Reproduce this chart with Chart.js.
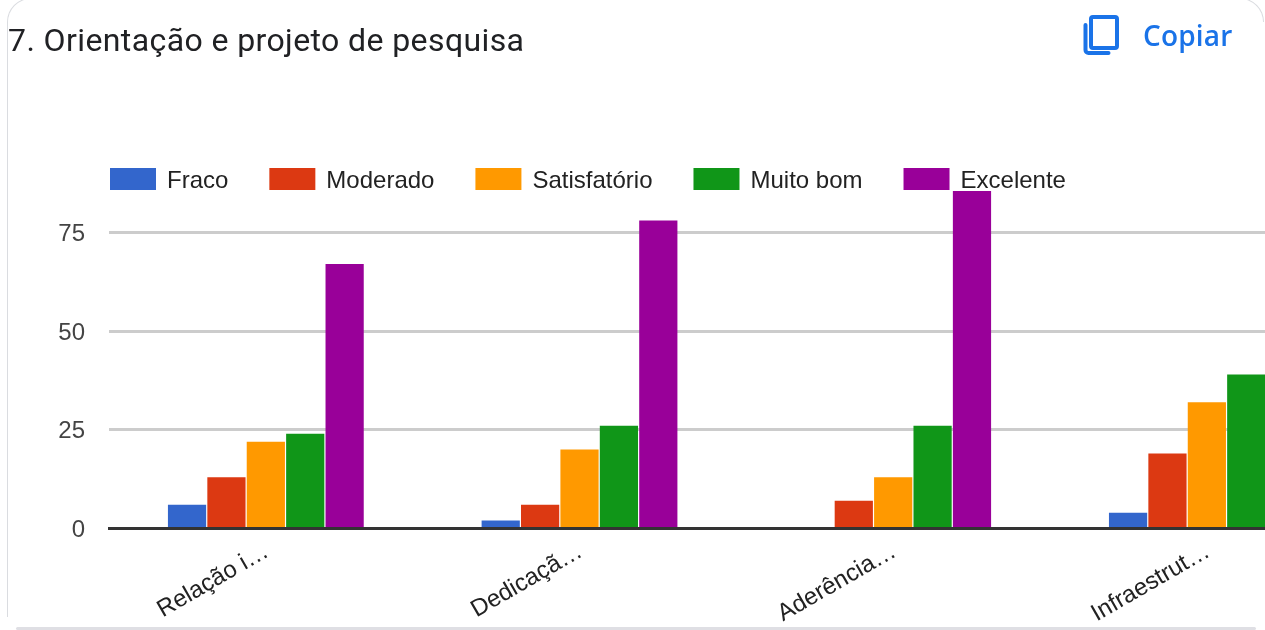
<!DOCTYPE html>
<html lang="pt">
<head>
<meta charset="utf-8">
<script src="https://cdn.jsdelivr.net/npm/chart.js@4"></script>
<style>
html,body{margin:0;padding:0;width:1265px;height:630px;overflow:hidden;background:#fff}
#card{position:absolute;left:7px;top:-2px;width:1280px;height:619px;box-sizing:border-box;border:1.5px solid #dadce0;border-bottom:none;border-radius:24px 24px 0 0}
#cardR{position:absolute;left:1240px;top:-2px;width:24px;height:24px;box-sizing:border-box;border-top:1.5px solid #dadce0;border-right:1.5px solid #dadce0;border-top-right-radius:24px;background:#fff}
#bottom{position:absolute;left:16px;top:627px;width:1240px;height:3px;background:#dfdfe4;border-radius:2px}
#wrap{position:absolute;left:0;top:0;width:1380px;height:630px}
#title{position:absolute;left:8px;top:21px;font:400 32px/38px Roboto,sans-serif;letter-spacing:.4px;color:#202124;white-space:nowrap}
#copy{position:absolute;left:1083px;top:14px;width:36px;height:42px}
#copyText{position:absolute;left:1143px;top:17px;font:600 28px/36px "Open Sans",sans-serif;letter-spacing:.2px;color:#1a73e8;white-space:nowrap}
</style>
</head>
<body>
<div id="card"></div><div id="cardR"></div><div id="bottom"></div>
<div id="wrap"><canvas id="c" width="1380" height="630"></canvas></div>
<div id="title">7. Orientação e projeto de pesquisa</div>
<svg id="copy" viewBox="0 0 36 42"><path fill="none" stroke="#1a73e8" stroke-width="4" stroke-linejoin="round" stroke-linecap="round" d="M10 3h22a2 2 0 0 1 2 2v27a2 2 0 0 1-2 2H10a2 2 0 0 1-2-2V5a2 2 0 0 1 2-2zM2.500 11v25a3 3 0 0 0 3 3h20"/></svg>
<div id="copyText">Copiar</div>
<script>
const categories = ["Relação i…", "Dedicaçã…", "Aderência…", "Infraestrut…"];
const fraco = [6, 2, 0, 4];
const moderado = [13, 6, 7, 19];
const satisfatorio = [22, 20, 13, 32];
const muitoBom = [24, 26, 26, 39];
const excelente = [67, 78, 86, 38];
const yTicks = [0, 25, 50, 75];

const legendPlace = {
  id: 'legendPlace',
  beforeDraw(chart) {
    chart.legend.left = 70;
    chart.legend.top = 127;
    chart.legend.bottom = 201;
  }
};

const canvas = document.getElementById('c');
const ctx2d = canvas.getContext('2d');
const baseFillText = ctx2d.fillText;
// Nudge the chart's text to sit where the reference's text baseline falls.
ctx2d.fillText = function (text, x, y, maxWidth) {
  const dy = this.textBaseline === 'middle' ? 2 : 0;
  const dx = this.textAlign === 'left' ? -1 : 0;
  return maxWidth === undefined
    ? baseFillText.call(this, text, x + dx, y + dy)
    : baseFillText.call(this, text, x + dx, y + dy, maxWidth);
};

new Chart(canvas, {
  type: 'bar',
  data: {
    labels: categories,
    datasets: [
      {label: 'Fraco', data: fraco, backgroundColor: '#3366cc'},
      {label: 'Moderado', data: moderado, backgroundColor: '#dc3912'},
      {label: 'Satisfatório', data: satisfatorio, backgroundColor: '#ff9900'},
      {label: 'Muito bom', data: muitoBom, backgroundColor: '#109618'},
      {label: 'Excelente', data: excelente, backgroundColor: '#990099'}
    ]
  },
  plugins: [legendPlace],
  options: {
    responsive: false,
    animation: false,
    devicePixelRatio: 1,
    layout: {padding: {top: 117, right: 16.3, left: 0, bottom: 0}},
    categoryPercentage: 0.628,
    barPercentage: 0.97,
    plugins: {
      tooltip: {enabled: false},
      title: {display: false},
      legend: {
        display: true,
        position: 'top',
        align: 'start',
        labels: {
          boxWidth: 46,
          boxHeight: 22,
          padding: 40,
          color: '#222222',
          font: {family: '"Liberation Sans", Arial, sans-serif', size: 24}
        }
      }
    },
    scales: {
      x: {
        afterFit(s) { s.height = 101.5; },
        grid: {display: false, drawTicks: false},
        border: {display: true, color: '#333333', width: 3, z: 1},
        ticks: {
          minRotation: 30,
          maxRotation: 30,
          padding: 7,
          autoSkip: false,
          color: '#222222',
          font: {family: '"Liberation Sans", Arial, sans-serif', size: 24}
        }
      },
      y: {
        afterFit(s) { s.width = 109; },
        min: 0,
        max: 85.5,
        afterBuildTicks(s) { s.ticks = yTicks.map(v => ({value: v})); },
        grid: {color: c => c.tick.value === 0 ? 'rgba(0,0,0,0)' : '#cccccc', lineWidth: 3, drawTicks: false},
        border: {display: false},
        ticks: {
          padding: 24,
          color: '#444444',
          font: {family: '"Liberation Sans", Arial, sans-serif', size: 24}
        }
      }
    }
  }
});
</script>
</body>
</html>
